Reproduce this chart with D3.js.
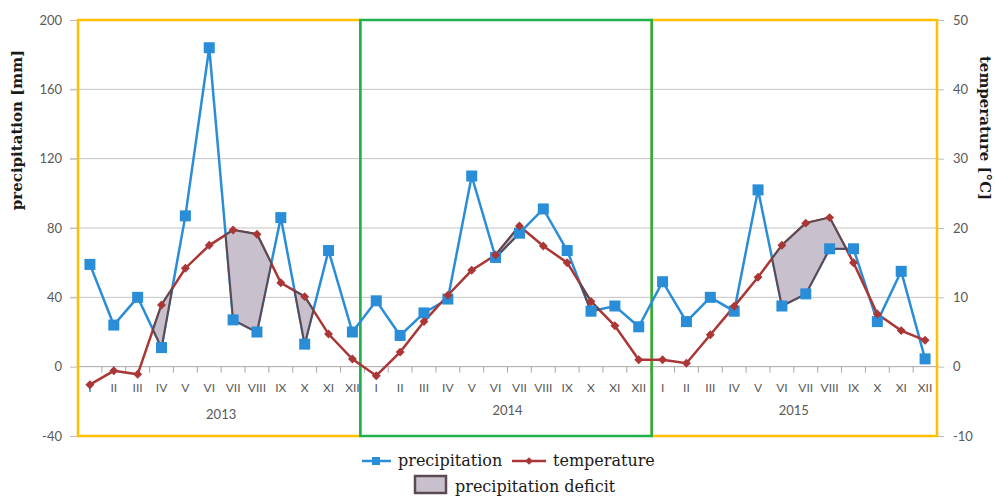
<!DOCTYPE html>
<html>
<head>
<meta charset="utf-8">
<script src="https://cdn.jsdelivr.net/npm/d3@7"></script>
<style>
  body { margin: 0; background: #fff; }
  svg { display: block; }
</style>
</head>
<body>
<script>

// data
var months = ["I", "II", "III", "IV", "V", "VI", "VII", "VIII", "IX", "X", "XI", "XII"];
var years = ["2013", "2014", "2015"];

// monthly precipitation [mm], 2013..2015
var precip = [59, 24, 40, 11, 87, 184, 27, 20, 86, 13, 67, 20,
              38, 18, 31, 39, 110, 63, 77, 91, 67, 32, 35, 23,
              49, 26, 40, 32, 102, 35, 42, 68, 68, 26, 55, 4.5];

// monthly mean temperature [C]
var temp = [-2.6, -0.6, -1.1, 8.9, 14.2, 17.5, 19.7, 19.1, 12.1, 10.1, 4.7, 1.1,
            -1.3, 2.1, 6.5, 10.3, 13.9, 16.1, 20.3, 17.4, 15.0, 9.4, 5.9, 1.0,
            1.0, 0.5, 4.6, 8.7, 12.9, 17.5, 20.7, 21.5, 15.0, 7.6, 5.2, 3.8];

// months that are marked as precipitation deficit
var deficitMonths = [3, 6, 7, 9, 18, 21, 29, 30, 31];

var precipTicks = [-40, 0, 40, 80, 120, 160, 200];
var tempTicks = [-10, 0, 10, 20, 30, 40, 50];

var W = 995, H = 500;
// note: "top" is taken by window.top, so the plot edges get their own names
var pLeft = 78, pRight = 937, pTop = 20, pBottom = 436;

var svg = d3.select("body").append("svg")
    .attr("width", W)
    .attr("height", H);

var x = d3.scaleBand()
    .domain(d3.range(precip.length))
    .range([pLeft, pRight]);
var bw = x.bandwidth();
var cx = function(i){ return x(0) + (i + 0.5) * bw; }; // i can be fractional

var yP = d3.scaleLinear().domain([-40, 200]).range([pBottom, pTop]);
var yT = d3.scaleLinear().domain([-10, 50]).range([pBottom, pTop]);

var tickFont = "13px Lato, 'Open Sans', sans-serif";

// gridlines
svg.append("g")
    .selectAll("line")
    .data(precipTicks.filter(function(d){ return d > 0 && d < 200; }))
    .enter().append("line")
    .attr("x1", pLeft - 8).attr("x2", pRight)
    .attr("y1", function(d){ return yP(d); })
    .attr("y2", function(d){ return yP(d); })
    .attr("stroke", "#c3c3c3")
    .attr("stroke-width", 1);

// left axis (plain hyphen for negatives, like the original)
var gl = svg.append("g")
    .attr("transform", "translate(" + pLeft + ",0)")
    .call(d3.axisLeft(yP).tickValues(precipTicks).tickSize(8).tickPadding(8).tickFormat(String));
gl.select(".domain").remove();
gl.selectAll("line").attr("stroke", "#bdbdbd");
gl.selectAll("text").attr("fill", "#595959").style("font", tickFont);

// right axis
var gr = svg.append("g")
    .attr("transform", "translate(" + pRight + ",0)")
    .call(d3.axisRight(yT).tickValues(tempTicks).tickSize(7).tickPadding(9).tickFormat(String));
gr.select(".domain").remove();
gr.selectAll("line").attr("stroke", "#bdbdbd");
gr.selectAll("text").attr("fill", "#595959").style("font", tickFont);

// zero line with month labels, ticks sit between the months
var gx = svg.append("g")
    .attr("transform", "translate(0," + yP(0) + ")")
    .call(d3.axisBottom(x).tickSize(6).tickPadding(11)
        .tickFormat(function(i){ return months[i % 12]; }));
gx.select(".domain").attr("d", "M" + pLeft + ",0H" + pRight).attr("stroke", "#a6a6a6");
gx.selectAll(".tick line").attr("x1", -bw / 2).attr("x2", -bw / 2).attr("stroke", "#a6a6a6");
gx.selectAll("text").attr("fill", "#595959").style("font", "12px Lato, 'Open Sans', sans-serif");

// year labels
svg.append("g")
    .selectAll("text")
    .data(years)
    .enter().append("text")
    .attr("x", function(d, k){ return cx(k * 12 + 5.5); })
    .attr("y", function(d, k){ return k == 0 ? 419 : 415; })
    .attr("text-anchor", "middle")
    .attr("fill", "#595959")
    .style("font", tickFont)
    .text(function(d){ return d; });

// year boxes (yellow, green, yellow)
var boxColors = ["#ffc000", "#1db04b", "#ffc000"];
var boxNudge = [[0, -4], [-4, 1], [1, 0]];
var boxOrder = [0, 2, 1]; // green on top
svg.append("g")
    .selectAll("rect")
    .data(boxOrder)
    .enter().append("rect")
    .attr("x", function(k){ return x(k * 12) + boxNudge[k][0]; })
    .attr("y", pTop)
    .attr("width", function(k){
        var x1 = k == 2 ? pRight : x(k * 12 + 12);
        return x1 + boxNudge[k][1] - x(k * 12) - boxNudge[k][0];
    })
    .attr("height", pBottom - pTop)
    .attr("fill", "none")
    .attr("stroke", function(k){ return boxColors[k]; })
    .attr("stroke-width", 2.5);

// deficit polygons: where temperature (on its scale) sits above precipitation
var tmm = function(i){ return yP.invert(yT(temp[i])); }; // temperature in mm units
var polys = [];
var cur = null;
for (var i = 0; i < precip.length; i++){
    var d = tmm(i) - precip[i];
    if (d > 0){
        if (!cur){
            cur = {top: [], bot: [], idx: []};
            if (i > 0){
                var d0 = tmm(i - 1) - precip[i - 1];
                var t = d0 / (d0 - d);
                var v = precip[i - 1] + t * (precip[i] - precip[i - 1]);
                cur.top.push([i - 1 + t, v]);
            }
        }
        cur.top.push([i, tmm(i)]);
        cur.bot.push([i, precip[i]]);
        cur.idx.push(i);
    } else if (cur){
        var d0 = tmm(i - 1) - precip[i - 1];
        var t = d0 / (d0 - d);
        var v = precip[i - 1] + t * (precip[i] - precip[i - 1]);
        cur.top.push([i - 1 + t, v]);
        polys.push(cur);
        cur = null;
    }
}
if (cur) polys.push(cur);
polys = polys.filter(function(p){
    return p.idx.some(function(i){ return deficitMonths.indexOf(i) != -1; });
});

// lines
var precipLine = d3.line()
    .x(function(d, i){ return cx(i); })
    .y(function(d){ return yP(d); });
var tempLine = d3.line()
    .x(function(d, i){ return cx(i); })
    .y(function(d){ return yT(d); });

svg.append("path")
    .attr("d", precipLine(precip))
    .attr("fill", "none")
    .attr("stroke", "#2a8dd8")
    .attr("stroke-width", 2.5);
svg.append("path")
    .attr("d", tempLine(temp))
    .attr("fill", "none")
    .attr("stroke", "#ab3636")
    .attr("stroke-width", 2.5);

svg.append("g")
    .selectAll("path")
    .data(polys)
    .enter().append("path")
    .attr("d", function(p){
        var pts = p.top.concat(p.bot.slice().reverse());
        return "M" + pts.map(function(q){ return cx(q[0]) + "," + yP(q[1]); }).join("L") + "Z";
    })
    .attr("fill", "#c9c0cd")
    .attr("stroke", "#5b4a52")
    .attr("stroke-width", 2)
    .attr("stroke-linejoin", "round");

// markers
svg.append("g")
    .selectAll("rect")
    .data(precip)
    .enter().append("rect")
    .attr("x", function(d, i){ return cx(i) - 5.5; })
    .attr("y", function(d){ return yP(d) - 5.5; })
    .attr("width", 11).attr("height", 11)
    .attr("fill", "#2a8dd8");

var diamond = d3.symbol().type(d3.symbolSquare).size(40);
svg.append("g")
    .selectAll("path")
    .data(temp)
    .enter().append("path")
    .attr("d", diamond)
    .attr("transform", function(d, i){ return "translate(" + cx(i) + "," + yT(d) + ") rotate(45)"; })
    .attr("fill", "#ab3636");

// axis titles
var titleFont = "bold 15px 'DejaVu Serif', 'Liberation Serif', serif";
svg.append("text")
    .attr("transform", "translate(22,130) rotate(-90)")
    .attr("text-anchor", "middle")
    .attr("fill", "#1a1a1a")
    .style("font", titleFont)
    .text("precipitation [mm]");
svg.append("text")
    .attr("transform", "translate(980,128) rotate(90)")
    .attr("text-anchor", "middle")
    .attr("fill", "#1a1a1a")
    .style("font", titleFont)
    .text("temperature [°C]");

// legend
var legFont = "16px 'DejaVu Serif', 'Liberation Serif', serif";
var lg = svg.append("g");
lg.append("line").attr("x1", 362).attr("x2", 391).attr("y1", 461).attr("y2", 461)
    .attr("stroke", "#2a8dd8").attr("stroke-width", 2.5);
lg.append("rect").attr("x", 372).attr("y", 457).attr("width", 8).attr("height", 8)
    .attr("fill", "#2a8dd8");
lg.append("text").attr("x", 398).attr("y", 466).style("font", legFont)
    .attr("fill", "#1a1a1a").text("precipitation");
lg.append("line").attr("x1", 512).attr("x2", 546).attr("y1", 461).attr("y2", 461)
    .attr("stroke", "#ab3636").attr("stroke-width", 2.5);
lg.append("path").attr("d", d3.symbol().type(d3.symbolSquare).size(30))
    .attr("transform", "translate(529,461) rotate(45)").attr("fill", "#ab3636");
lg.append("text").attr("x", 553).attr("y", 466).style("font", legFont)
    .attr("fill", "#1a1a1a").text("temperature");
lg.append("rect").attr("x", 415).attr("y", 476).attr("width", 31).attr("height", 17)
    .attr("fill", "#c9c0cd").attr("stroke", "#5b4a52").attr("stroke-width", 2.5);
lg.append("text").attr("x", 455).attr("y", 492).style("font", legFont)
    .attr("fill", "#1a1a1a").text("precipitation deficit");

</script>
</body>
</html>
